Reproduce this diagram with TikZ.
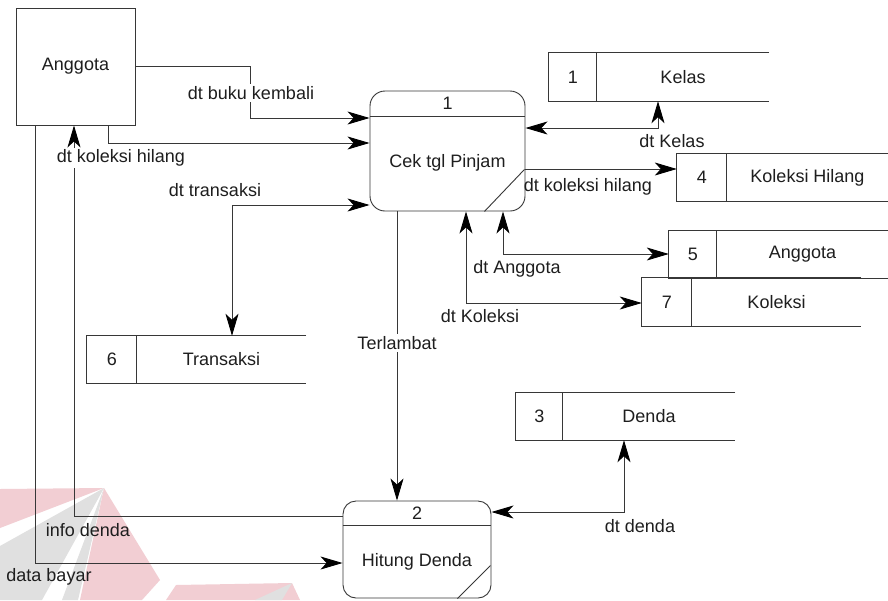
\documentclass[tikz,border=0pt]{standalone}
\usepackage{fontspec}
\setmainfont{Liberation Sans}
\usetikzlibrary{arrows.meta,calc}
\definecolor{wmpink}{RGB}{242,206,211}
\definecolor{wmgray}{RGB}{224,224,224}
\definecolor{lncol}{RGB}{55,55,55}
\definecolor{txcol}{RGB}{30,30,30}
\newcommand\dstore[8]{%
  \node[store, minimum width=#4pt, minimum height=#5pt] (#1) at (#2,#3) {};
  \draw[ln] (#1.north east) -- (#1.north west) -- (#1.south west) -- (#1.south east);
  \draw[ln] ([xshift=#6pt]#1.north west) -- ([xshift=#6pt]#1.south west);
  \node (#1n) at ($(#1.west)+(#6/2,0)$) {#7};
  \node (#1t) at ($(#1.east)!0.5!([xshift=#6pt]#1.west)$) {#8};
}
\begin{document}
\begin{tikzpicture}[x=1pt,y=-1pt,
  every node/.style={font=\fontsize{18}{21}\selectfont, text=txcol, inner sep=1pt},
  ln/.style={draw=lncol, line width=0.9pt},
  >={Stealth[length=22pt,width=13pt,inset=6pt,color=black]},
  flow/.style={ln},
  ent/.style={draw=lncol, line width=0.9pt, inner sep=0pt},
  proc/.style={draw=lncol, line width=0.9pt, rounded corners=15pt, inner sep=0pt},
  store/.style={inner sep=0pt},
  cutlbl/.style={fill=white, inner sep=2pt},
  lbl/.style={inner sep=1pt}
]
\useasboundingbox (0,0) rectangle (888,600);
\fill[white] (0,0) rectangle (888,600);

% faint watermark
\fill[wmpink] (0,489) -- (104,488) -- (0,528) -- cycle;
\fill[wmgray] (104,488) -- (0,546) -- (0,600) -- (42,600) -- cycle;
\fill[wmgray] (104,488) -- (62,600) -- (78,600) -- cycle;
\fill[wmpink] (104,488) -- (160,580) -- (142,600) -- (80,600) -- cycle;
\fill[wmpink] (166,600) -- (176,585) -- (292,583) -- (300,600) -- cycle;
\fill[wmgray] (292,583) -- (255,600) -- (282,600) -- cycle;

% external entity
\node[ent, minimum width=119pt, minimum height=117pt] (ang) at (75.5,66.5) {Anggota};

% process 1
\node[proc, minimum width=155pt, minimum height=120pt] (p1) at (447.5,151) {};
\draw[ln] ($(p1.north west)+(0,26)$) -- ($(p1.north east)+(0,26)$);
\node (p1n) at ($(p1.north)+(0,13)$) {1};
\node (p1t) at ($(p1.center)+(0,12)$) {Cek tgl Pinjam};
\draw[ln] ($(p1.south east)+(-1,-42)$) -- ($(p1.south east)+(-41,0)$);

% process 2
\node[proc, rounded corners=13pt, minimum width=148pt, minimum height=97pt] (p2) at (417,549.5) {};
\draw[ln] ($(p2.north west)+(0,25)$) -- ($(p2.north east)+(0,25)$);
\node (p2n) at ($(p2.north)+(0,12.5)$) {2};
\node (p2t) at ($(p2.center)+(0,12.5)$) {Hitung Denda};
\draw[ln] ($(p2.south east)+(-1,-33)$) -- ($(p2.south east)+(-34,0)$);

% data stores
\dstore{s1}{659}{77}{220}{48}{48}{1}{Kelas}
\dstore{s4}{782.5}{177.5}{211}{47}{50}{4}{Koleksi Hilang}
\dstore{s5}{778.5}{254.5}{219}{47}{48}{5}{Anggota}
\dstore{s7}{751.5}{302}{219}{48}{50}{7}{Koleksi}
\dstore{s6}{196.5}{359.5}{219}{47}{50}{6}{Transaksi}
\dstore{s3}{625.5}{416.5}{219}{47}{47}{3}{Denda}

% bend coordinates
\coordinate (b1) at (250,118);
\coordinate (b2) at (108,143);
\coordinate (b3) at (74,516);
\coordinate (b4) at (35,563);
\coordinate (b5) at (232,205);
\coordinate (b6) at (397,300);
\coordinate (b7) at (658,128);
\coordinate (b8) at (600,169);
\coordinate (b9) at (503,254);
\coordinate (b10) at (466,303);
\coordinate (b11) at (624,512);

% connectors
\draw[flow,->] (ang.east) -| (b1) -- (b1 -| p1.west);
\draw[flow,->] (b2 |- ang.south) -- (b2) -- (b2 -| p1.west);
\draw[flow,->] (b3 -| p2.west) -- (b3) -- (b3 |- ang.south);
\draw[flow,->] (b4 |- ang.south) -- (b4) -- (b4 -| p2.west);
\draw[flow,<->] (b5 -| p1.west) -- (b5) -- (b5 |- s6.north);
\draw[flow,->] (b6 |- p1.south) -- (b6 |- p2.north);
\draw[flow,<->] (b7 -| p1.east) -- (b7) -- (b7 |- s1.south);
\draw[flow,->] (b8 -| p1.east) -- (b8 -| s4.west);
\draw[flow,<->] (b9 |- p1.south) -- (b9) -- (b9 -| s5.west);
\draw[flow,<->] (b10 |- p1.south) -- (b10) -- (b10 -| s7.west);
\draw[flow,<->] (b11 -| p2.east) -- (b11) -- (b11 |- s3.south);

% labels
\node[cutlbl] (l1) at (251,93) {dt buku kembali};
\node[cutlbl] (l3) at (121,158) {dt koleksi hilang};
\node[lbl] (l3b) at (88,530) {info denda};
\node[lbl] (l4) at (49,577) {data bayar};
\node[lbl] (l5) at (215,190) {dt transaksi};
\node[cutlbl] (l6) at (397,343) {Terlambat};
\node[lbl] (l7) at (672,141) {dt Kelas};
\node[lbl] (l8) at (588,187) {dt koleksi hilang};
\node[lbl] (l9) at (517,269) {dt Anggota};
\node[lbl] (l10) at (480,316) {dt Koleksi};
\node[lbl] (l11) at (640,526) {dt denda};
\end{tikzpicture}
\end{document}
